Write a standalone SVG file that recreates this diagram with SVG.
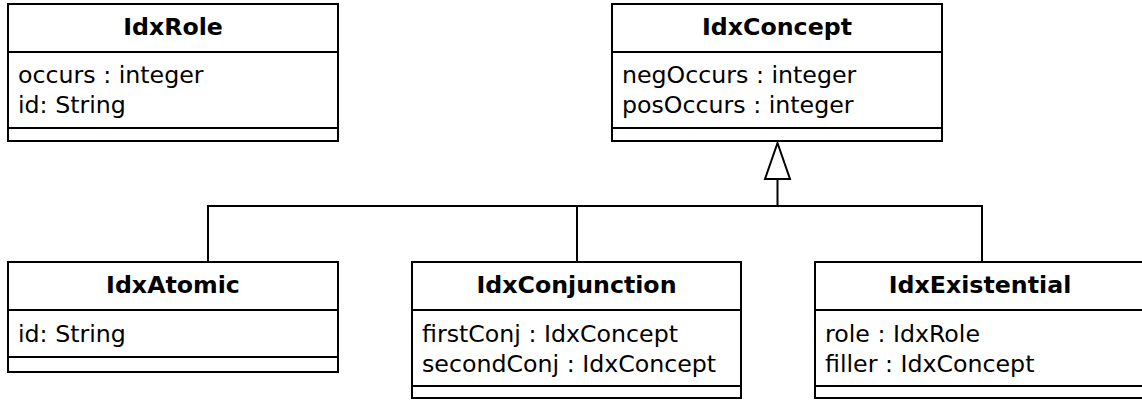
<svg xmlns="http://www.w3.org/2000/svg" width="1142" height="401" viewBox="0 0 1142 401">
<style>
.box{fill:#fff;stroke:#000;stroke-width:2}
.ln{stroke:#000;stroke-width:2;fill:none}
.t{font-family:"DejaVu Sans",sans-serif;font-size:23.7px;font-weight:bold;text-anchor:middle;fill:#000}
.a{font-family:"DejaVu Sans",sans-serif;font-size:23.7px;fill:#000}
</style>
<rect width="1142" height="401" fill="#fff"/>
<g id="connectors">
<polyline class="ln" points="208,262 208,206 982,206 982,262"/>
<line class="ln" x1="577" y1="206" x2="577" y2="262"/>
<line class="ln" x1="777.5" y1="206" x2="777.5" y2="179"/>
<polygon class="ln" style="fill:#fff" points="777.5,143 765,179 790,179"/>
</g>
<g id="IdxRole">
<rect class="box" x="8" y="4" width="330" height="137"/>
<line class="ln" x1="8" y1="52" x2="338" y2="52"/>
<line class="ln" x1="8" y1="128" x2="338" y2="128"/>
<text class="t" x="173" y="35">IdxRole</text>
<text class="a" x="18" y="83">occurs : integer</text>
<text class="a" x="18" y="113">id: String</text>
</g>
<g id="IdxConcept">
<rect class="box" x="612" y="4" width="330" height="137"/>
<line class="ln" x1="612" y1="52" x2="942" y2="52"/>
<line class="ln" x1="612" y1="128" x2="942" y2="128"/>
<text class="t" x="777" y="35">IdxConcept</text>
<text class="a" x="622" y="83">negOccurs : integer</text>
<text class="a" x="622" y="113">posOccurs : integer</text>
</g>
<g id="IdxAtomic">
<rect class="box" x="8" y="262" width="330" height="110"/>
<line class="ln" x1="8" y1="310" x2="338" y2="310"/>
<line class="ln" x1="8" y1="357" x2="338" y2="357"/>
<text class="t" x="173" y="293">IdxAtomic</text>
<text class="a" x="18" y="342">id: String</text>
</g>
<g id="IdxConjunction">
<rect class="box" x="412" y="262" width="329" height="136"/>
<line class="ln" x1="412" y1="310" x2="741" y2="310"/>
<line class="ln" x1="412" y1="386" x2="741" y2="386"/>
<text class="t" x="576.5" y="293">IdxConjunction</text>
<text class="a" x="422" y="342">firstConj : IdxConcept</text>
<text class="a" x="422" y="372">secondConj : IdxConcept</text>
</g>
<g id="IdxExistential">
<rect class="box" x="815" y="262" width="330" height="136"/>
<line class="ln" x1="815" y1="310" x2="1145" y2="310"/>
<line class="ln" x1="815" y1="386" x2="1145" y2="386"/>
<text class="t" x="980" y="293">IdxExistential</text>
<text class="a" x="825" y="342">role : IdxRole</text>
<text class="a" x="825" y="372">filler : IdxConcept</text>
</g>
</svg>
